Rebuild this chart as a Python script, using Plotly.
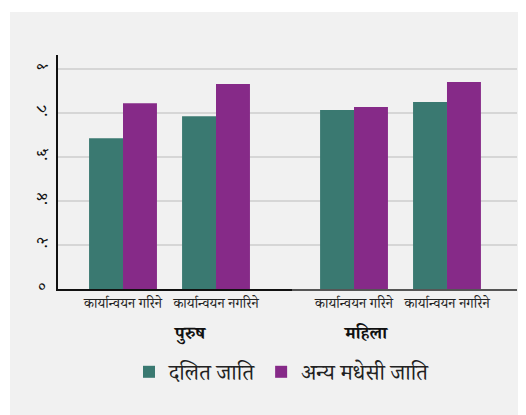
import plotly.graph_objects as go
from plotly.subplots import make_subplots

groups = ["पुरुष", "महिला"]
categories = ["कार्यान्वयन गरिने", "कार्यान्वयन नगरिने"]
series_names = ["दलित जाति", "अन्य मधेसी जाति"]
dalit_purush = [0.686, 0.786]
madhesi_purush = [0.845, 0.932]
dalit_mahila = [0.814, 0.850]
madhesi_mahila = [0.827, 0.941]
ytick_vals = [0, 0.2, 0.4, 0.6, 0.8, 1.0]
ytick_text = ["०", ".२", ".४", ".६", ".८", "१"]

colors = ["#3a7971", "#862a88"]
FONT = "Noto Serif Devanagari, Noto Sans Devanagari, Lohit Devanagari, FreeSerif, Noto Sans, sans-serif"

fig = make_subplots(rows=1, cols=2, shared_yaxes=False, horizontal_spacing=0,
                    column_widths=[0.5098, 0.4902])

data = [(dalit_purush, madhesi_purush), (dalit_mahila, madhesi_mahila)]
for ci, (d, m) in enumerate(data):
    for si, vals in enumerate((d, m)):
        fig.add_trace(go.Bar(x=categories, y=vals, name=series_names[si],
                             marker=dict(color=colors[si], line=dict(width=0)),
                             showlegend=(ci == 0)), row=1, col=ci + 1)

# page has an 8px body margin; figure is sized to fit the window
OFF = 8
W, H = 526 - OFF, 415 - OFF
ml, mr, mt = 58 - OFF, 9, 55 - OFF
mb = H - (289 - OFF)
pw = W - ml - mr
ph = H - mt - mb

fig.update_layout(
    width=W, height=H,
    margin=dict(l=ml, r=mr, t=mt, b=mb, pad=0),
    paper_bgcolor="white", plot_bgcolor="rgba(0,0,0,0)",
    barmode="group", bargap=0.27, bargroupgap=0,
    font=dict(family=FONT, color="#222", size=14),
    legend=dict(orientation="h", x=(282 - 58) / pw, xanchor="center",
                y=-(372 - 289) / ph, yanchor="middle",
                font=dict(size=22, family=FONT, color="#222"),
                bgcolor="rgba(0,0,0,0)"),
    shapes=[dict(type="rect", xref="paper", yref="paper",
                 x0=(10 - 58) / pw, x1=(526 - 58) / pw + 0.01,
                 y0=-(415 - 289) / ph - 0.01, y1=(289 - 12) / ph,
                 fillcolor="#f1f1f1", line=dict(width=0), layer="below")],
)

fig.update_xaxes(row=1, col=1, range=[-0.699, 1.817], showline=True, linecolor="#111",
                 linewidth=2, ticks="", showgrid=False, tickfont=dict(size=14))
fig.update_xaxes(row=1, col=2, range=[-0.667, 1.753], showline=True, linecolor="#555",
                 linewidth=2, ticks="", showgrid=False, tickfont=dict(size=14))
fig.update_yaxes(row=1, col=1, range=[0, 1.064], tickvals=ytick_vals, ticktext=ytick_text,
                 tickangle=-90, showline=True, linecolor="#111", linewidth=2,
                 gridcolor="#d6d6d6", gridwidth=1.5, zeroline=False, ticks="",
                 tickfont=dict(size=16, color="#111"), ticklabelstandoff=3)
fig.update_yaxes(row=1, col=2, range=[0, 1.064], tickvals=ytick_vals, showticklabels=False,
                 showline=False, gridcolor="#d6d6d6", gridwidth=1.5, zeroline=False, ticks="")

fig.add_annotation(text="<b>" + groups[0] + "</b>", x=(171 - 58) / pw, y=-(336 - 289) / ph,
                   xref="paper", yref="paper", yanchor="middle",
                   showarrow=False, font=dict(size=18, family=FONT, color="#111"))
fig.add_annotation(text="<b>" + groups[1] + "</b>", x=(390 - 58) / pw, y=-(336 - 289) / ph,
                   xref="paper", yref="paper", yanchor="middle",
                   showarrow=False, font=dict(size=18, family=FONT, color="#111"))

fig.write_html("out.html")
